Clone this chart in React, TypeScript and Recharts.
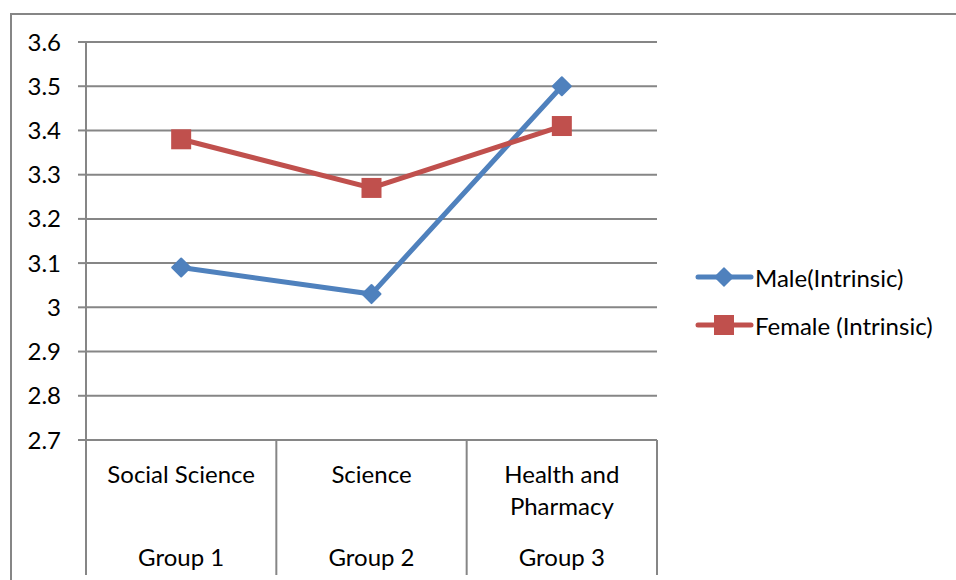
import React from 'react';
import { LineChart, Line, XAxis, YAxis, CartesianGrid } from 'recharts';

const categories = ['Social Science', 'Science', 'Health and Pharmacy'];
const groups = ['Group 1', 'Group 2', 'Group 3'];
const maleValues = [3.09, 3.03, 3.5];
const femaleValues = [3.38, 3.27, 3.41];
const yTicks = [2.7, 2.8, 2.9, 3, 3.1, 3.2, 3.3, 3.4, 3.5, 3.6];
const seriesNames = ['Male(Intrinsic)', 'Female (Intrinsic)'];

const W = 956;
const H = 580;
const Y_AXIS_W = 60;
const X_AXIS_H = 30;
// plot area: x 86..657, y 42..440
const M = { top: 42, right: 299, left: 86 - Y_AXIS_W, bottom: 140 - X_AXIS_H };
const BAND = (W - 86 - M.right) / categories.length;
const BLUE = '#4F81BD';
const RED = '#C0504D';
const GRID = '#868686';
const FONT = 'Lato, "Open Sans", sans-serif';
const FS = 24;
const LW = 5;

const data = categories.map((c, i) => ({
  name: c,
  group: groups[i],
  male: maleValues[i],
  female: femaleValues[i],
}));

function wrap(label: string, max = 16) {
  const lines: string[] = [];
  let cur = '';
  label.split(' ').forEach((w) => {
    const next = cur ? cur + ' ' + w : w;
    if (next.length > max && cur) {
      lines.push(cur);
      cur = w;
    } else cur = next;
  });
  if (cur) lines.push(cur);
  return lines;
}

const CategoryTick = (props: any) => {
  const { x, y, payload, index } = props;
  const lines = wrap(payload.value);
  const last = index === categories.length - 1;
  return (
    <g>
      <line x1={x - BAND / 2} y1={y} x2={x - BAND / 2} y2={y + 135} stroke={GRID} strokeWidth={2} />
      {last && <line x1={x + BAND / 2} y1={y} x2={x + BAND / 2} y2={y + 135} stroke={GRID} strokeWidth={2} />}
      {lines.map((l, i) => (
        <text key={i} x={x} y={y + 43 + i * 32} textAnchor="middle" fontSize={FS} fill="#000" fontFamily={FONT}>
          {l}
        </text>
      ))}
      <text x={x} y={y + 126} textAnchor="middle" fontSize={FS} fill="#000" fontFamily={FONT}>
        {groups[index]}
      </text>
    </g>
  );
};

const Diamond = (props: any) => {
  const { cx, cy } = props;
  if (cx == null || cy == null) return null;
  const r = 9;
  return (
    <polygon
      points={`${cx},${cy - r} ${cx + r},${cy} ${cx},${cy + r} ${cx - r},${cy}`}
      fill={BLUE}
      stroke={BLUE}
      strokeWidth={2}
      strokeLinejoin="round"
    />
  );
};

const Square = (props: any) => {
  const { cx, cy } = props;
  if (cx == null || cy == null) return null;
  const s = 20;
  return <rect x={cx - s / 2} y={cy - s / 2} width={s} height={s} fill={RED} />;
};

const LegendBox = () => (
  <div style={{ position: 'absolute', left: 695, top: 253, fontFamily: FONT, fontSize: FS, color: '#000' }}>
    {seriesNames.map((n, i) => (
      <div key={n} style={{ display: 'flex', alignItems: 'center', height: 48, whiteSpace: 'nowrap' }}>
        <svg width={60} height={24}>
          <line x1={3} y1={12} x2={56} y2={12} stroke={i === 0 ? BLUE : RED} strokeWidth={LW} strokeLinecap="round" />
          {i === 0 ? (
            <polygon points="29,3 38,12 29,21 20,12" fill={BLUE} stroke={BLUE} strokeWidth={1.5} strokeLinejoin="round" />
          ) : (
            <rect x={19} y={2} width={20} height={20} fill={RED} />
          )}
        </svg>
        <span>{n}</span>
      </div>
    ))}
  </div>
);

export default function App() {
  return (
    <div style={{ position: 'absolute', left: 0, top: 0, width: W, height: H, overflow: 'hidden', background: '#fff' }}>
      <div
        style={{
          position: 'absolute',
          left: 10,
          top: 13,
          width: W,
          height: H,
          borderLeft: `2px solid ${GRID}`,
          borderTop: `2px solid ${GRID}`,
        }}
      />
      <div style={{ position: 'absolute', left: 0, top: 0 }}>
        <LineChart width={W} height={H} data={data} margin={M}>
          <CartesianGrid vertical={false} stroke={GRID} strokeWidth={2} />
          <XAxis
            dataKey="name"
            height={X_AXIS_H}
            padding={{ left: BAND / 2, right: BAND / 2 }}
            axisLine={{ stroke: GRID, strokeWidth: 2 }}
            tickLine={false}
            tickSize={0}
            tickMargin={0}
            interval={0}
            tick={<CategoryTick />}
          />
          <YAxis
            width={Y_AXIS_W}
            domain={[2.7, 3.6]}
            ticks={yTicks}
            interval={0}
            axisLine={{ stroke: GRID, strokeWidth: 2 }}
            tickLine={{ stroke: GRID, strokeWidth: 2 }}
            tickSize={8}
            tickMargin={17}
            tick={{ fill: '#000', fontSize: FS, fontFamily: FONT }}
          />
          <Line
            dataKey="male"
            name={seriesNames[0]}
            stroke={BLUE}
            strokeWidth={LW}
            dot={<Diamond />}
            activeDot={false}
            isAnimationActive={false}
          />
          <Line
            dataKey="female"
            name={seriesNames[1]}
            stroke={RED}
            strokeWidth={LW}
            dot={<Square />}
            activeDot={false}
            isAnimationActive={false}
          />
        </LineChart>
      </div>
      <LegendBox />
    </div>
  );
}
